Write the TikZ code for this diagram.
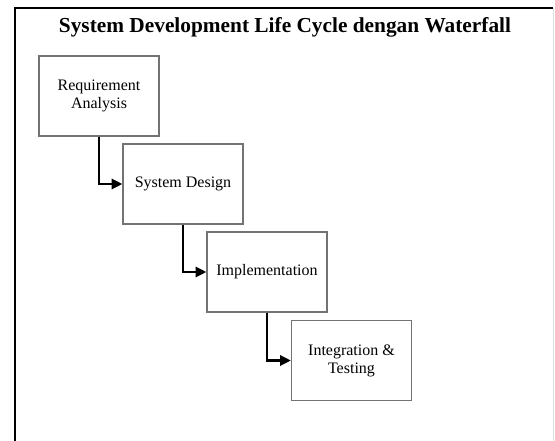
\documentclass[tikz,border=0pt]{standalone}
\usepackage{fontspec}
\setmainfont{Liberation Serif}
\usetikzlibrary{arrows.meta}
\begin{document}
\begin{tikzpicture}[x=0.75pt, y=-0.75pt,
    phase/.style={draw=black!55, line width=0.9pt, minimum width=90pt, minimum height=60pt,
        align=center, font=\fontsize{12}{13.5}\selectfont, inner sep=0pt},
    flow/.style={-{Triangle[length=8pt, width=7.5pt]}, line width=1.9pt}]
    \useasboundingbox (0,0) rectangle (555,441);
    % Rahmen
    \draw[line width=1.1pt] (15,441) -- (15,8) -- (553,8);
    \draw[black!12, line width=0.6pt] (553,8) -- (553,441);
    
    % Titel
    \node[font=\fontsize{16}{18}\selectfont\bfseries] (title) at (285,27) {System Development Life Cycle dengan Waterfall};
    
    % Phasen
    \node[phase] (req) at (99,96) {Requirement\\ Analysis};
    \node[phase] (design) at (183,184) {System Design};
    \node[phase] (impl) at (267,272) {Implementation};
    \node[phase] (test) at (351.5,360.5) {Integration \&\\ Testing};
    
    % Pfeile
    \draw[flow] (req.south) |- (design.west);
    \draw[flow] (design.south) |- (impl.west);
    \draw[flow] (impl.south) |- (test.west);
\end{tikzpicture}
\end{document}
